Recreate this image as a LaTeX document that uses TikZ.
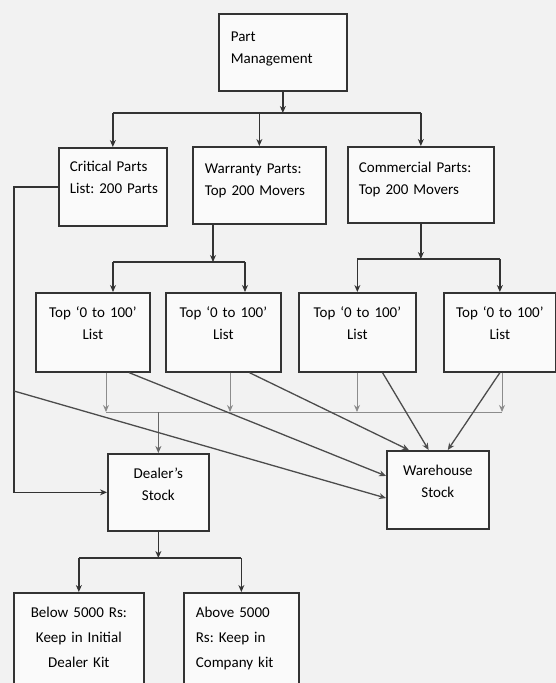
\documentclass[tikz,border=0pt]{standalone}
\usepackage{fontspec}
\setmainfont{Carlito}
\usetikzlibrary{arrows.meta}

\begin{document}
\begin{tikzpicture}[x=1pt,y=-1pt,
  box/.style={draw=black!80, fill=black!2, line width=1.7pt, anchor=north west,
    inner ysep=0pt, font=\fontsize{15pt}{22pt}\selectfont\frenchspacing},
  lbox/.style={box, inner xsep=12pt, align=left},
  cbox/.style={box, inner xsep=0pt, align=center},
  wire/.style={black!80, line width=1.3pt},
  faint/.style={black!45, line width=1pt},
  arr/.style={-{Stealth[length=7pt,width=6pt]}}]
\useasboundingbox (0,0) rectangle (556,683);
\fill[black!5] (0,0) rectangle (556,683);

% boxes
\node[lbox, text width=104pt, text height=28pt, text depth=49pt] (pm) at (218,13) {Part\\Management};
\node[lbox, inner xsep=11pt, text width=86pt, text height=24pt, text depth=54pt] (crit) at (58,147) {Critical Parts\\\mbox{List: 200 Parts}};
\node[lbox, text width=109pt, text height=27pt, text depth=50pt] (warr) at (192,146) {Warranty Parts:\\Top 200 Movers};
\node[lbox, inner xsep=11pt, text width=124pt, text height=26pt, text depth=50pt] (comm) at (347,146) {Commercial Parts:\\Top 200 Movers};
\node[cbox, text width=114pt, text height=25pt, text depth=54pt] (topa) at (35,292) {Top `0 to 100'\\List};
\node[cbox, text width=115pt, text height=25pt, text depth=54pt] (topb) at (165,292) {Top `0 to 100'\\List};
\node[cbox, text width=117pt, text height=25pt, text depth=54pt] (topc) at (298,292) {Top `0 to 100'\\List};
\node[cbox, text width=112pt, text height=25pt, text depth=54pt] (topd) at (443,292) {Top `0 to 100'\\List};
\node[cbox, text width=101pt, text height=25pt, text depth=52pt] (dealer) at (107,453) {Dealer's\\Stock};
\node[cbox, text width=102pt, text height=25pt, text depth=53pt] (ware) at (386,450) {Warehouse\\Stock};
\node[cbox, font=\fontsize{15pt}{25pt}\selectfont\frenchspacing, text width=130pt, text height=25pt, text depth=75pt] (below) at (13,592) {Below 5000 Rs:\\Keep in Initial\\Dealer Kit};
\node[lbox, font=\fontsize{15pt}{25pt}\selectfont\frenchspacing, text width=91pt, text height=25pt, text depth=75pt] (above) at (183,592) {Above 5000\\Rs: Keep in\\Company kit};

% management to the three lists
\coordinate (r1) at (0,113);
\draw[wire,arr] (pm.south) -- (pm.south |- r1);
\draw[wire] (crit.north |- r1) -- (comm.north |- r1);
\foreach \n in {crit,warr,comm}
  \draw[wire,arr] (\n.north |- r1) -- (\n.north);

% warranty split
\coordinate (r2) at (213,262);
\coordinate (r2a) at (113,262);
\coordinate (r2b) at (245,262);
\draw[wire,arr] (warr.south -| r2) -- (r2);
\draw[wire] (r2a) -- (r2b);
\draw[wire,arr] (r2a) -- (r2a |- topa.north);
\draw[wire,arr] (r2b) -- (r2b |- topb.north);

% commercial split
\coordinate (r3) at (0,259);
\draw[wire,arr] (comm.south) -- (comm.south |- r3);
\draw[wire] (topc.north |- r3) -- (topd.north |- r3);
\foreach \n in {topc,topd}
  \draw[wire,arr] (\n.north |- r3) -- (\n.north);

% lists down to dealer
\coordinate (r4w) at (106,412);
\coordinate (r4e) at (502,412);
\draw[faint] (r4w) -- (r4e);
\foreach \n/\x in {topa/106,topb/230,topc/357,topd/502}
  \draw[faint,arr] (\n.south -| \x,0) -- (\x,0 |- r4w);
\draw[wire,black!60,arr] (dealer.north |- r4w) -- (dealer.north);

% critical list loop
\coordinate (lft) at (14,391);
\draw[wire,arr] (crit.west) -| (lft) |- (dealer.west);
\draw[wire,black!70,arr] (lft) -- (ware.189);

% lists to warehouse
\draw[wire,black!70,arr] (topa.312) -- (ware.165);
\draw[wire,black!70,arr] (topb.303) -- (ware.126);
\draw[wire,black!70,arr] (topc.302) -- (ware.103);
\draw[wire,black!70,arr] (topd.south) -- (ware.76);

% dealer split
\coordinate (r5) at (0,558);
\draw[wire,arr] (dealer.south) -- (dealer.south |- r5);
\draw[wire] (below.north |- r5) -- (above.north |- r5);
\foreach \n in {below,above}
  \draw[wire,arr] (\n.north |- r5) -- (\n.north);
\end{tikzpicture}
\end{document}
